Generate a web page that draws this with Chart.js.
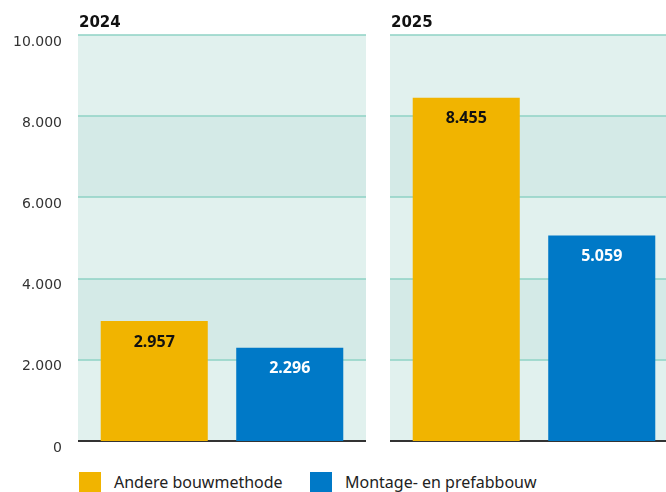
<!DOCTYPE html>
<html><head><meta charset="utf-8">
<script src="https://cdn.jsdelivr.net/npm/chart.js@4"></script>
<style>
html,body{margin:0;padding:0;background:#fff;overflow:hidden;width:666px;height:492px;}
#wrap{position:absolute;left:0;top:0;width:690px;height:460px;}
.leg{position:absolute;top:472px;height:22px;font:16px "Noto Sans",sans-serif;color:#222;}
.sw{position:absolute;top:472px;width:22px;height:22px;}
</style></head><body>
<div id="wrap"><canvas id="c" width="690" height="460"></canvas></div>
<div class="sw" id="sw0" style="left:79px;"></div><div class="leg" id="lg0" style="left:114px;top:471px;"></div>
<div class="sw" id="sw1" style="left:310px;"></div><div class="leg" id="lg1" style="left:345px;top:471px;"></div>
<script>
const years = ['2024', '2025'];
const seriesNames = ['Andere bouwmethode', 'Montage- en prefabbouw'];
const andereValues = [2957, 8455];
const montageValues = [2296, 5059];
const yTicks = [0, 2000, 4000, 6000, 8000, 10000];
const colors = ['#f1b400', '#0079c7'];
const labelColors = ['#111111', '#ffffff'];

function fmt(v){ return String(v).replace(/\B(?=(\d{3})+(?!\d))/g, '.'); }

['0','1'].forEach(i=>{
  document.getElementById('sw'+i).style.background = colors[+i];
  document.getElementById('lg'+i).textContent = seriesNames[+i];
});

const panelPlugin = {
  id: 'panels',
  beforeDatasetsDraw(chart){
    const {ctx, scales:{x, y}} = chart;
    const half = x.width / years.length / 2 - 12;
    ctx.save();
    years.forEach((yr, i) => {
      const cx = x.getPixelForValue(i);
      const l = cx - half, r = cx + half;
      for (let k = 0; k < yTicks.length - 1; k++) {
        const y0 = y.getPixelForValue(yTicks[k]);
        const y1 = y.getPixelForValue(yTicks[k+1]);
        ctx.fillStyle = (k % 2 === 0) ? '#e1f1ee' : '#d4eae7';
        ctx.fillRect(l, y1, r - l, y0 - y1);
      }
      ctx.strokeStyle = '#8ed2c5';
      ctx.lineWidth = 1.5;
      yTicks.slice(1).forEach(t => {
        const py = Math.round(y.getPixelForValue(t));
        ctx.beginPath(); ctx.moveTo(l, py); ctx.lineTo(r, py); ctx.stroke();
      });
      const p0 = Math.round(y.getPixelForValue(0));
      ctx.strokeStyle = '#333';
      ctx.lineWidth = 2;
      ctx.beginPath(); ctx.moveTo(l, p0); ctx.lineTo(r, p0); ctx.stroke();
      ctx.fillStyle = '#111';
      ctx.font = 'bold 15px "DejaVu Sans"';
      ctx.textAlign = 'left'; ctx.textBaseline = 'alphabetic';
      ctx.fillText(yr, l + 1, 27);
    });
    ctx.restore();
  },
  afterDatasetsDraw(chart){
    const {ctx} = chart;
    ctx.save();
    ctx.font = 'bold 16px "Noto Sans"';
    ctx.textAlign = 'center'; ctx.textBaseline = 'middle';
    chart.data.datasets.forEach((ds, di) => {
      chart.getDatasetMeta(di).data.forEach((bar, i) => {
        ctx.fillStyle = labelColors[di];
        ctx.fillText(fmt(ds.data[i]), bar.x, bar.y + 21);
      });
    });
    ctx.restore();
  }
};

new Chart(document.getElementById('c'), {
  type: 'bar',
  data: {
    labels: years,
    datasets: [
      {label: seriesNames[0], data: andereValues, backgroundColor: colors[0]},
      {label: seriesNames[1], data: montageValues, backgroundColor: colors[1]}
    ]
  },
  options: {
    responsive: false,
    animation: false,
    devicePixelRatio: 1,
    categoryPercentage: 0.8686,
    barPercentage: 0.79,
    layout: {padding: {top: 35, bottom: 19, left: 0, right: 0}},
    plugins: {legend: {display: false}, tooltip: {enabled: false}},
    scales: {
      x: {display: false, offset: true},
      y: {
        min: 0, max: 10000,
        border: {display: false},
        grid: {display: false, drawTicks: false},
        afterFit(s){ s.width = 66; },
        ticks: {
          stepSize: 2000,
          padding: 4,
          labelOffset: 7,
          color: '#333',
          font: {family: 'DejaVu Sans', size: 14},
          callback: v => fmt(v)
        }
      }
    }
  },
  plugins: [panelPlugin]
});
</script>
</body></html>
